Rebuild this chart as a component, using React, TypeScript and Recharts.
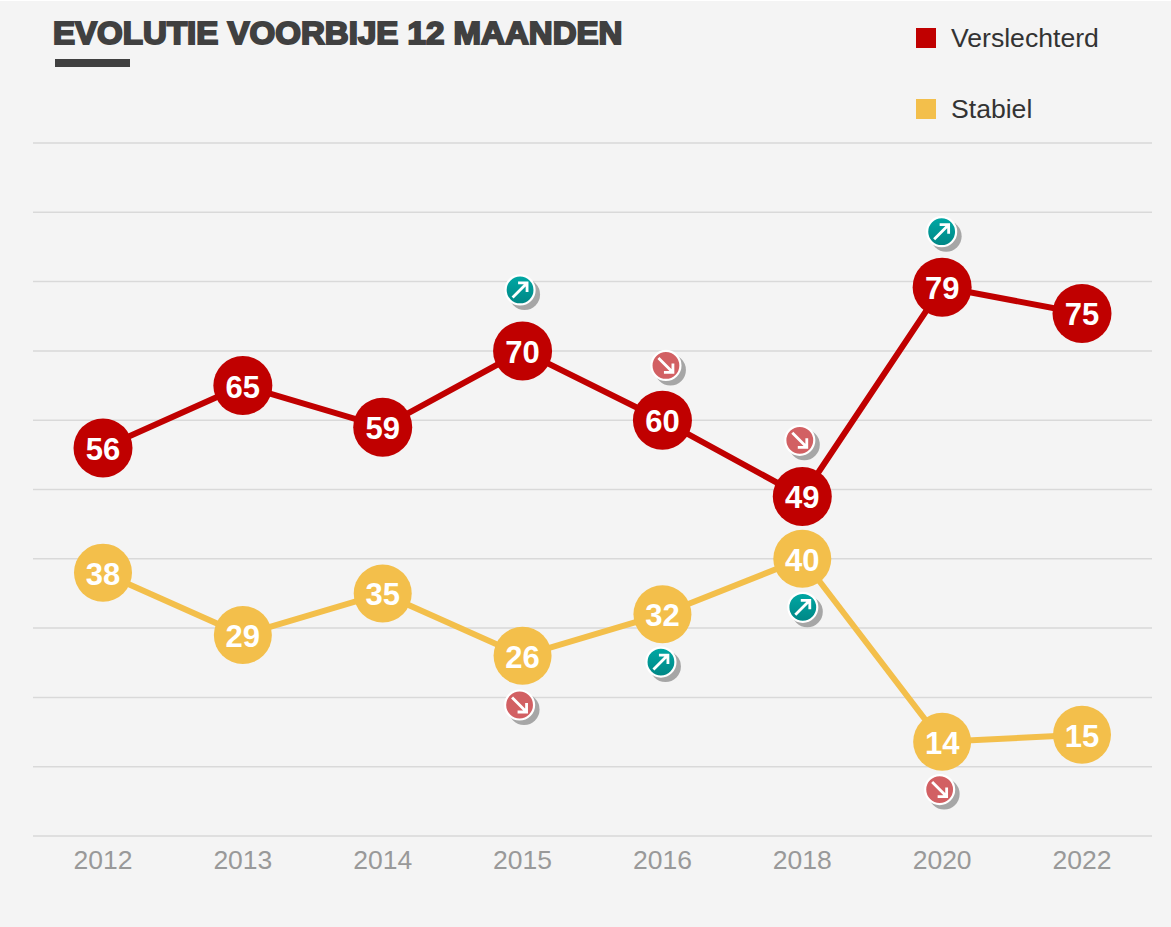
import React from "react";
import { LineChart, Line, XAxis, YAxis, CartesianGrid, LabelList, Legend } from "recharts";

const years = ["2012", "2013", "2014", "2015", "2016", "2018", "2020", "2022"];
const verslechterd = [56, 65, 59, 70, 60, 49, 79.2, 75.4];
const stabiel = [38, 29, 35, 26, 32, 40, 13.6, 14.6];
const yTicks = [0, 10, 20, 30, 40, 50, 60, 70, 80, 90, 100];

// Trend markers: value at which the marker sits, its direction and sideways nudge
const redMarkers = [null, null, null, 78.8, 67.9, 57.1, 87.2, null];
const redTrend = ["", "", "", "up", "down", "down", "up", ""];
const redNudge = [0, 0, 0, -2.5, 3.5, -2.5, -0.5, 0];
const yellowMarkers = [null, null, null, 18.9, 25.1, 33, 6.7, null];
const yellowTrend = ["", "", "", "down", "up", "up", "down", ""];
const yellowNudge = [0, 0, 0, -3, -1.5, 0.5, -2.5, 0];

const data = years.map((year, i) => ({
  year,
  verslechterd: verslechterd[i],
  stabiel: stabiel[i],
  redMarker: redMarkers[i],
  yellowMarker: yellowMarkers[i],
}));

const RED = "#c00000";
const YELLOW = "#f3bf4b";

const makeBadge = (trend: string[], nudge: number[]) => (props: any) => {
  const { cx, cy, index } = props;
  const dir = trend[index];
  if (cy == null || !dir) return <g key={index} />;
  const up = dir === "up";
  const x = cx + nudge[index];
  const y = cy;
  return (
    <g key={index}>
      <circle cx={x + 4.5} cy={y + 4.5} r={15.5} fill="#a6a6a6" />
      <circle cx={x} cy={y} r={14.5} fill={up ? "url(#tealFill)" : "#d26063"} stroke="#ffffff" strokeWidth={2.2} />
      {up ? (
        <path d={`M${x - 7.5} ${y + 7.5} L${x + 7} ${y - 7} M${x - 2} ${y - 7} H${x + 7} V${y + 2}`} fill="none" stroke="#fff" strokeWidth={2.8} />
      ) : (
        <path d={`M${x - 7.5} ${y - 7.5} L${x + 7} ${y + 7} M${x - 2} ${y + 7} H${x + 7} V${y - 2}`} fill="none" stroke="#fff" strokeWidth={2.8} />
      )}
    </g>
  );
};

const LegendBox = ({ payload }: any) => (
  <div>
    {(payload || []).filter((p: any) => p.type !== "none").map((p: any, i: number) => (
      <div key={i} style={{ position: "absolute", left: 0, top: i * 71, height: 36, display: "flex", alignItems: "center", whiteSpace: "nowrap" }}>
        <span style={{ width: 20, height: 20, background: p.color, display: "inline-block", marginRight: 15 }} />
        <span style={{ fontFamily: "'Liberation Sans'", fontSize: 26.6, color: "#333333" }}>{p.value}</span>
      </div>
    ))}
  </div>
);

const round = (v: any) => Math.round(Number(v));

const PointLabel = (props: any) => {
  const { x, y, value } = props;
  return (
    <text x={x} y={y + 1.5} textAnchor="middle" dominantBaseline="central" fill="#ffffff"
      fontFamily="'Liberation Sans'" fontWeight={700} fontSize={31}>
      {round(value)}
    </text>
  );
};

export default function App() {
  return (
    <div style={{ position: "absolute", left: 0, top: 0, width: 1171, height: 927, background: "#ffffff", overflow: "hidden" }}>
      <div style={{ position: "absolute", left: 0, top: 1, width: 1171, height: 926, background: "#f4f4f4" }} />
      <div style={{ position: "absolute", left: 53, top: 15, fontFamily: "'Liberation Sans'", fontWeight: 700, fontSize: 30.5, lineHeight: "36px", color: "#404040", WebkitTextStroke: "1.9px #404040", whiteSpace: "nowrap", transform: "scaleX(1.084)", transformOrigin: "left center" }}>
        EVOLUTIE VOORBIJE 12 MAANDEN
      </div>
      <div style={{ position: "absolute", left: 55, top: 59, width: 75, height: 8, background: "#404040" }} />
      <div style={{ position: "absolute", left: 0, top: 0 }}>
        <LineChart width={1171} height={927} data={data} margin={{ top: 143, left: 33, right: 19, bottom: 0 }}>
          <defs>
            <linearGradient id="tealFill" x1="0" y1="0" x2="0" y2="1">
              <stop offset="0%" stopColor="#00a8a4" />
              <stop offset="100%" stopColor="#008685" />
            </linearGradient>
          </defs>
          <CartesianGrid horizontal vertical={false} stroke="#d9d9d9" strokeWidth={1.5} />
          <XAxis
            dataKey="year"
            padding={{ left: 70, right: 70 }}
            axisLine={false}
            tickLine={false}
            tick={{ fill: "#999999", fontFamily: "'Liberation Sans'", fontSize: 26.5 }}
            tickMargin={8}
            interval={0}
            height={91}
          />
          <YAxis hide domain={[0, 100]} ticks={yTicks} width={0} />
          <Legend
            layout="vertical"
            verticalAlign="top"
            align="left"
            itemSorter={null}
            wrapperStyle={{ position: "absolute", left: 916, top: 20, width: 0, height: 0 }}
            content={<LegendBox />}
          />
          <Line dataKey="verslechterd" name="Verslechterd" stroke={RED} strokeWidth={6} isAnimationActive={false}
            dot={{ r: 29.5, fill: RED, stroke: RED, strokeWidth: 0 }} activeDot={false}>
            <LabelList dataKey="verslechterd" content={<PointLabel />} />
          </Line>
          <Line dataKey="stabiel" name="Stabiel" stroke={YELLOW} strokeWidth={6} isAnimationActive={false}
            dot={{ r: 29, fill: YELLOW, stroke: YELLOW, strokeWidth: 0 }} activeDot={false}>
            <LabelList dataKey="stabiel" content={<PointLabel />} />
          </Line>
          <Line dataKey="redMarker" legendType="none" stroke="none" isAnimationActive={false} dot={makeBadge(redTrend, redNudge)} activeDot={false} />
          <Line dataKey="yellowMarker" legendType="none" stroke="none" isAnimationActive={false} dot={makeBadge(yellowTrend, yellowNudge)} activeDot={false} />
        </LineChart>
      </div>
    </div>
  );
}
